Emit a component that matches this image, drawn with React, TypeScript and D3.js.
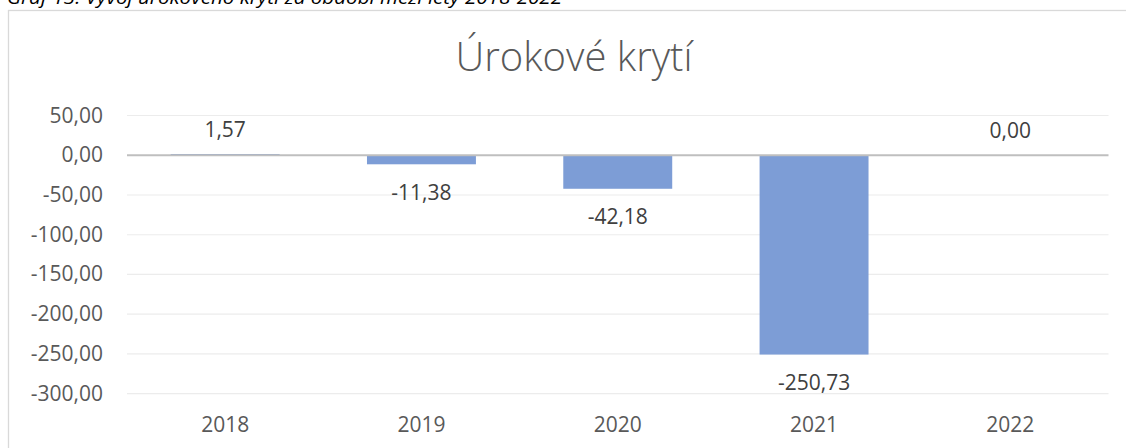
import React from "react";
import * as d3 from "d3";

const categories = ["2018", "2019", "2020", "2021", "2022"];
const values = [1.57, -11.38, -42.18, -250.73, 0.0];
const yTicks = [50, 0, -50, -100, -150, -200, -250, -300];
const chartTitle = "Úrokové krytí";
const caption = "Graf 13: Vývoj úrokového krytí za období mezi lety 2018-2022";

const W = 1126;
const H = 448;
const FONT = "'Open Sans', 'Noto Sans', sans-serif";

const locale = d3.formatLocale({
  decimal: ",",
  thousands: " ",
  grouping: [3],
  currency: ["", " Kč"],
  minus: "-",
});
const fmt = locale.format(".2f");

export default function App() {
  const x = d3
    .scaleBand<string>()
    .domain(categories)
    .range([127, 1108.5])
    .paddingInner(0.445)
    .paddingOuter(0.2225);
  const y = d3.scaleLinear().domain([-300, 50]).range([393.7, 115.5]);

  return (
    <svg
      width={W}
      height={H}
      style={{ position: "absolute", left: 0, top: 0, background: "#fff" }}
      xmlns="http://www.w3.org/2000/svg"
    >
      <rect x={0} y={0} width={W} height={H} fill="#fff" />
      {/* caption, cut off at top as in the reference */}
      <text
        x={7}
        y={4}
        fontFamily={FONT}
        fontStyle="italic"
        fontSize={19}
        fill="#000"
        textLength={555}
        lengthAdjust="spacingAndGlyphs"
      >
        {caption}
      </text>
      {/* chart border */}
      <rect x={8.5} y={10.5} width={W + 20} height={H + 20} fill="none" stroke="#d9d9d9" strokeWidth={1.3} />
      {/* title */}
      <text
        x={574}
        y={71}
        textAnchor="middle"
        fontFamily={FONT}
        fontWeight={300}
        fontSize={40}
        fill="#595959"
      >
        {chartTitle}
      </text>
      {/* gridlines */}
      {yTicks.map((t) =>
        t === 0 ? null : (
          <line
            key={"g" + t}
            x1={127}
            x2={1108.5}
            y1={y(t)}
            y2={y(t)}
            stroke="#ececec"
            strokeWidth={1.2}
          />
        )
      )}
      {/* y tick labels */}
      {yTicks.map((t) => (
        <text
          key={"t" + t}
          x={103}
          y={y(t) + 7}
          textAnchor="end"
          fontFamily={FONT}
          fontSize={21}
          fill="#595959"
        >
          {fmt(t)}
        </text>
      ))}
      {/* bars */}
      {categories.map((c, i) => {
        const v = values[i];
        const y0 = y(0);
        const y1 = y(v);
        return (
          <rect
            key={"b" + c}
            x={x(c)!}
            y={Math.min(y0, y1)}
            width={x.bandwidth()}
            height={Math.abs(y1 - y0)}
            fill="#7d9dd6"
          />
        );
      })}
      {/* zero axis line */}
      <line x1={127} x2={1108.5} y1={y(0)} y2={y(0)} stroke="#bfbfbf" strokeWidth={2.2} />
      {/* data labels */}
      {categories.map((c, i) => {
        const v = values[i];
        const cx = x(c)! + x.bandwidth() / 2;
        const cy = v >= 0 ? y(v) - 24 : y(v) + 28.5;
        return (
          <text
            key={"l" + c}
            x={cx}
            y={cy + 7}
            textAnchor="middle"
            fontFamily={FONT}
            fontSize={21}
            fill="#404040"
          >
            {fmt(v)}
          </text>
        );
      })}
      {/* x labels */}
      {categories.map((c) => (
        <text
          key={"x" + c}
          x={x(c)! + x.bandwidth() / 2}
          y={432}
          textAnchor="middle"
          fontFamily={FONT}
          fontSize={21}
          fill="#595959"
        >
          {c}
        </text>
      ))}
    </svg>
  );
}
